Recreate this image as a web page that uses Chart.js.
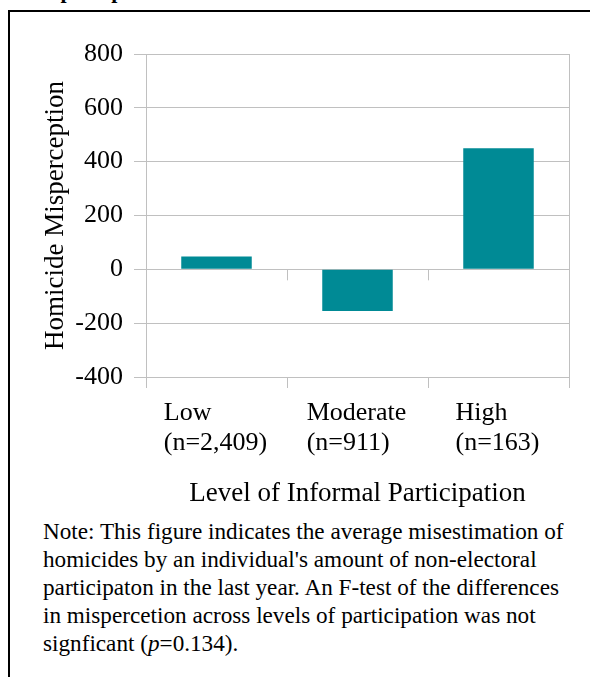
<!DOCTYPE html>
<html>
<head>
<meta charset="utf-8">
<script src="https://cdn.jsdelivr.net/npm/chart.js@4"></script>
<style>
    body { margin: 0; background: #fff; width: 590px; height: 677px; overflow: hidden; position: relative; }
    .frame { position: absolute; left: 8px; top: 10px; width: 620px; height: 700px; border: 2px solid #000; }
    .cut-title { position: absolute; left: 25px; top: -20px; font: bold 22px/22px "Liberation Serif"; color: #000; white-space: nowrap; }
    #wrap { position: absolute; left: 0; top: 0; width: 590px; height: 510px; }
    .note { position: absolute; left: 43px; top: 517px; width: 526px; font: 23.2px/28px "Liberation Serif"; color: #000; }
</style>
</head>
<body>
<div class="cut-title">Misperception</div>
<div class="frame"></div>
<div id="wrap"><canvas id="misChart"></canvas></div>
<div class="note">Note: This figure indicates the average misestimation of homicides by an individual's amount of non-electoral participaton in the last year. An F-test of the differences in mispercetion across levels of participation was not signficant (<i>p</i>=0.134).</div>
<script>
const categories = [["Low", "(n=2,409)"], ["Moderate", "(n=911)"], ["High", "(n=163)"]];
const misperception = [48, -155, 450];
const yMin = -400;
const yMax = 800;
const yStep = 200;

const gridGray = "#c0c0c0";
const serif = "'Liberation Serif', serif";

Chart.defaults.font.family = serif;

// category labels are left aligned as a block under each bar
const catLabels = {
    id: "catLabels",
    afterDraw(chart) {
        const ctx = chart.ctx;
        const xs = chart.scales.x;
        const area = chart.chartArea;
        ctx.save();
        ctx.font = "26px " + serif;
        ctx.fillStyle = "#000";
        ctx.textAlign = "left";
        ctx.textBaseline = "alphabetic";
        categories.forEach(function (lines, i) {
            const cx = xs.getPixelForValue(i);
            const w = Math.max.apply(null, lines.map(l => ctx.measureText(l).width));
            lines.forEach(function (l, j) {
                ctx.fillText(l, cx - w / 2 - 1, area.bottom + 43 + j * 30);
            });
        });
        // small tick marks where the category axis crosses zero
        const y0 = chart.scales.y.getPixelForValue(0);
        ctx.strokeStyle = gridGray;
        ctx.lineWidth = 1;
        for (let i = 1; i < categories.length; i++) {
            const x = Math.round((xs.getPixelForValue(i - 1) + xs.getPixelForValue(i)) / 2) + 0.5;
            ctx.beginPath();
            ctx.moveTo(x, y0);
            ctx.lineTo(x, y0 + 11);
            ctx.stroke();
        }
        ctx.restore();
    }
};

document.addEventListener("DOMContentLoaded", function () {
    const ctx = document.getElementById("misChart").getContext("2d");

    new Chart(ctx, {
        type: "bar",
        data: {
            labels: categories,
            datasets: [
                {
                    data: misperception,
                    backgroundColor: "#008a95",
                    borderWidth: 0,
                    barPercentage: 0.5,
                    categoryPercentage: 1,
                },
            ],
        },
        options: {
            responsive: true,
            maintainAspectRatio: false,
            animation: false,
            layout: { padding: { left: 30, right: 21, top: 54, bottom: 0 } },
            plugins: { legend: { display: false }, tooltip: { enabled: false } },
            scales: {
                x: {
                    offset: true,
                    grid: {
                        offset: true,
                        drawOnChartArea: true,
                        color: c => (c.index === 0 || c.index === undefined) ? gridGray : "rgba(0,0,0,0)",
                        tickColor: gridGray,
                        tickLength: 11,
                    },
                    border: { display: false },
                    ticks: { display: false },
                    title: {
                        display: true,
                        text: "Level of Informal Participation",
                        color: "#000",
                        font: { family: serif, size: 27 },
                        padding: 0,
                    },
                    afterFit: s => { s.height = 133; },
                },
                y: {
                    min: yMin,
                    max: yMax,
                    ticks: {
                        stepSize: yStep,
                        color: "#000",
                        font: { family: serif, size: 26 },
                        padding: 11,
                    },
                    grid: { color: gridGray, tickLength: 12 },
                    border: { color: gridGray },
                    title: {
                        display: true,
                        text: "Homicide Misperception",
                        color: "#000",
                        font: { family: serif, size: 27 },
                        padding: { top: 10, bottom: 0 },
                    },
                    afterFit: s => { s.width = 116; },
                },
            },
        },
        plugins: [catLabels],
    });
});
</script>
</body>
</html>
